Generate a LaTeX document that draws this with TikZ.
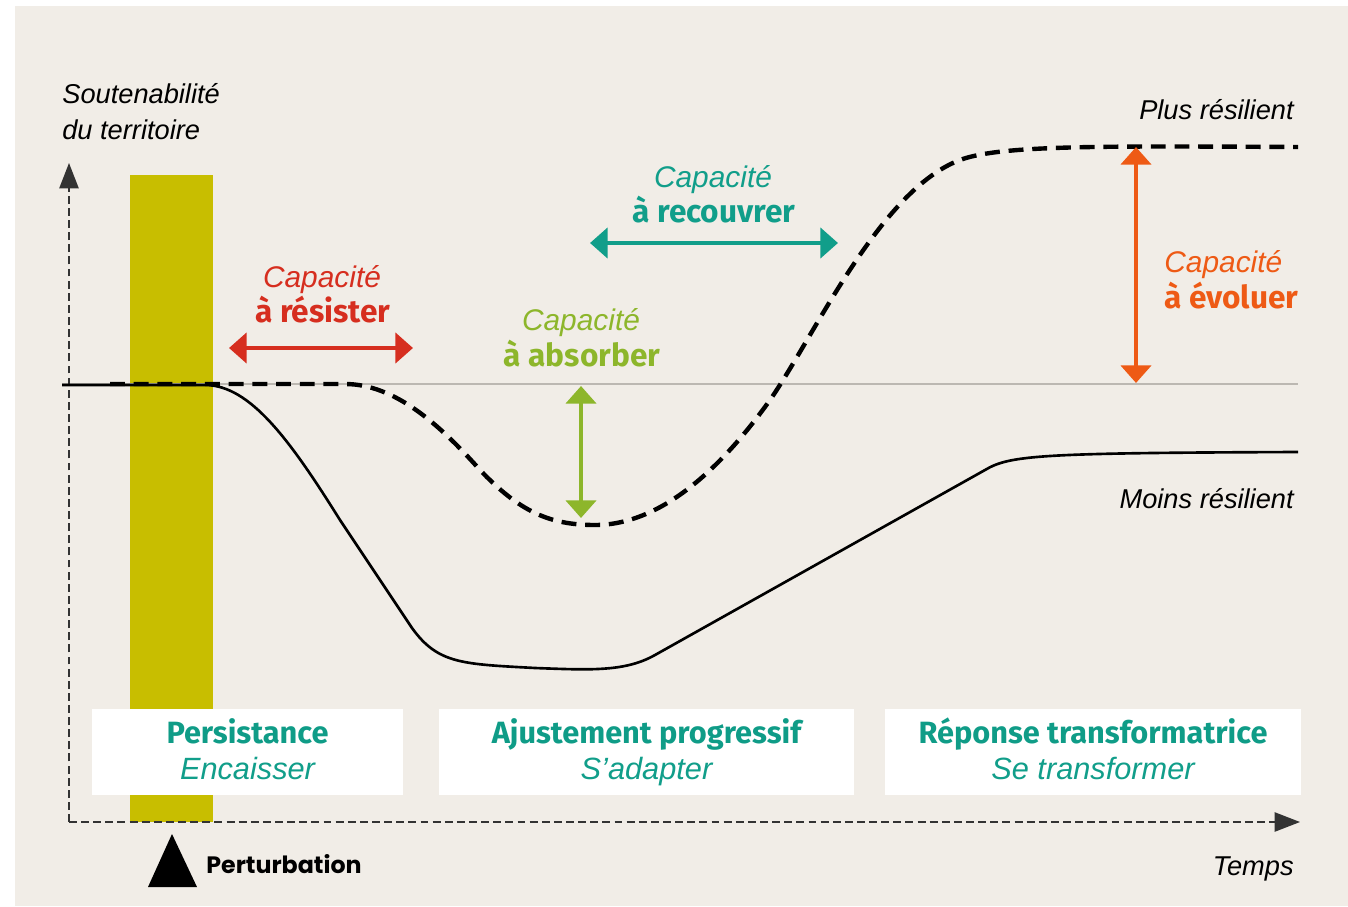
\documentclass[tikz,border=0pt]{standalone}
\usepackage{fontspec}
\setmainfont{Liberation Sans}
\newfontfamily\headfont{Fira Sans}
\newfontfamily\popfont{Poppins}
\usetikzlibrary{arrows.meta}
\definecolor{bgbeige}{HTML}{F1EDE7}
\definecolor{barolive}{HTML}{C8BE00}
\definecolor{resred}{HTML}{D62E1F}
\definecolor{absgreen}{HTML}{8DB62B}
\definecolor{recteal}{HTML}{119E8A}
\definecolor{evoorange}{HTML}{EE5A15}
\definecolor{phaseteal}{HTML}{0F9C87}
\definecolor{axisgray}{HTML}{333333}
\definecolor{refgray}{HTML}{BCB8B2}

\tikzset{
	axisline/.style={draw=axisgray, line width=1pt, dash pattern=on 4.5pt off 2.4pt, -{Triangle[length=14.5pt,width=11pt]}},
	refline/.style={draw=refgray, line width=0.6pt},
	lowpath/.style={draw=black, line width=1.5pt},
	highpath/.style={draw=black, line width=2.5pt, dash pattern=on 8.5pt off 5pt},
	caparrow/.style={line width=2.5pt, {Triangle[length=10pt,width=17pt]}-{Triangle[length=10pt,width=17pt]}},
	capitalic/.style={inner sep=0pt, anchor=base, font=\itshape\fontsize{17}{20}\selectfont},
	capbold/.style={inner sep=0pt, anchor=base, font=\headfont\bfseries\fontsize{18}{21}\selectfont},
	axislabel/.style={inner sep=0pt, font=\itshape\fontsize{15.5}{18}\selectfont},
	phasebox/.style={fill=white, minimum height=1.72cm, inner sep=0pt},
	phasehead/.style={inner sep=0pt, anchor=base, text=phaseteal, font=\headfont\bfseries\fontsize{17.5}{20}\selectfont},
	phasesub/.style={inner sep=0pt, anchor=base, text=recteal, font=\itshape\fontsize{17.5}{20}\selectfont}
}

\begin{document}
\begin{tikzpicture}[x=0.02cm, y=-0.02cm]

	% Background.
	\fill[white] (0,0) rectangle (1348,906);
	\fill[bgbeige] (15,6) rectangle (1348,906);
	\useasboundingbox (0,0) rectangle (1348,906);

	% Perturbation bar.
	\fill[barolive] (130,175) rectangle (213,822);

	% Reference level.
	\draw[refline] (62,384) -- (1298,384);

	% Axes.
	\coordinate (origin) at (69,822);
	\coordinate (ytop) at (69,163);
	\coordinate (xend) at (1300,822);
	\draw[axisline] (origin) -- (ytop);
	\draw[axisline] (origin) -- (xend);

	% Less resilient path.
	\draw[lowpath] (62,385) -- (205,385) .. controls (250,385) and (290,440) .. (340,520)
		-- (412,628) .. controls (438,664) and (462,664) .. (535,668)
		.. controls (590,670) and (625,672) .. (655,655)
		-- (985,470) .. controls (1010,455) and (1040,453) .. (1298,452);

	% More resilient path.
	\draw[highpath] (110,384) -- (345,384) .. controls (395,384) and (440,425) .. (480,470)
		.. controls (520,512) and (550,525) .. (595,525)
		.. controls (660,525) and (720,470) .. (770,400)
		.. controls (815,335) and (880,190) .. (960,160)
		.. controls (1000,145) and (1100,146) .. (1298,147);

	% Phase boxes.
	\node[phasebox, minimum width=6.22cm] (box1) at (247.5,752) {};
	\node[phasebox, minimum width=8.3cm] (box2) at (646.5,752) {};
	\node[phasebox, minimum width=8.32cm] (box3) at (1093,752) {};

	\node[phasehead] (box1-a) at (box1.center |- 0,743) {Persistance};
	\node[phasesub] (box1-b) at (box1.center |- 0,779) {Encaisser};
	\node[phasehead] (box2-a) at (box2.center |- 0,743) {Ajustement progressif};
	\node[phasesub] (box2-b) at (box2.center |- 0,779) {S’adapter};
	\node[phasehead] (box3-a) at (box3.center |- 0,743) {Réponse transformatrice};
	\node[phasesub] (box3-b) at (box3.center |- 0,779) {Se transformer};

	% Capacity arrows.
	\coordinate (res-l) at (229,348);
	\coordinate (res-r) at (413,348);
	\coordinate (abs-t) at (581,386);
	\coordinate (abs-b) at (581,518);
	\coordinate (rec-l) at (590,243);
	\coordinate (rec-r) at (838,243);
	\coordinate (evo-t) at (1136,147);
	\coordinate (evo-b) at (1136,383);
	\draw[caparrow, resred] (res-l) -- (res-r);
	\draw[caparrow, absgreen] (abs-t) -- (abs-b);
	\draw[caparrow, recteal] (rec-l) -- (rec-r);
	\draw[caparrow, evoorange] (evo-t) -- (evo-b);

	% Capacity labels.
	\node[capitalic, text=resred] (res-a) at (322,287) {Capacité};
	\node[capbold, text=resred] (res-b) at (323,322) {à résister};
	\node[capitalic, text=absgreen] (abs-a) at (581,330) {Capacité};
	\node[capbold, text=absgreen] (abs-b) at (582,366) {à absorber};
	\node[capitalic, text=recteal] (rec-a) at (713,187) {Capacité};
	\node[capbold, text=recteal] (rec-b) at (714,222) {à recouvrer};
	\node[capitalic, text=evoorange, anchor=base west] (evo-a) at (1164,272) {Capacité};
	\node[capbold, text=evoorange, anchor=base west] (evo-b) at (1164,308) {à évoluer};

	% Axis labels.
	\node[axislabel, anchor=base west] (ylab-a) at (62,103) {Soutenabilité};
	\node[axislabel, anchor=base west] (ylab-b) at (62,139) {du territoire};
	\node[axislabel, anchor=base east] (plus) at (1294,119) {Plus résilient};
	\node[axislabel, anchor=base east] (moins) at (1294,508) {Moins résilient};
	\node[axislabel, anchor=base east] (temps) at (1294,875) {Temps};

	% Perturbation marker.
	\fill[black] (148,887) -- (197,887) -- (172,834) -- cycle;
	\node[inner sep=0pt, anchor=base west, font=\popfont\bfseries\fontsize{13.5}{16}\selectfont] (perturb) at (206,873) {Perturbation};

\end{tikzpicture}
\end{document}
